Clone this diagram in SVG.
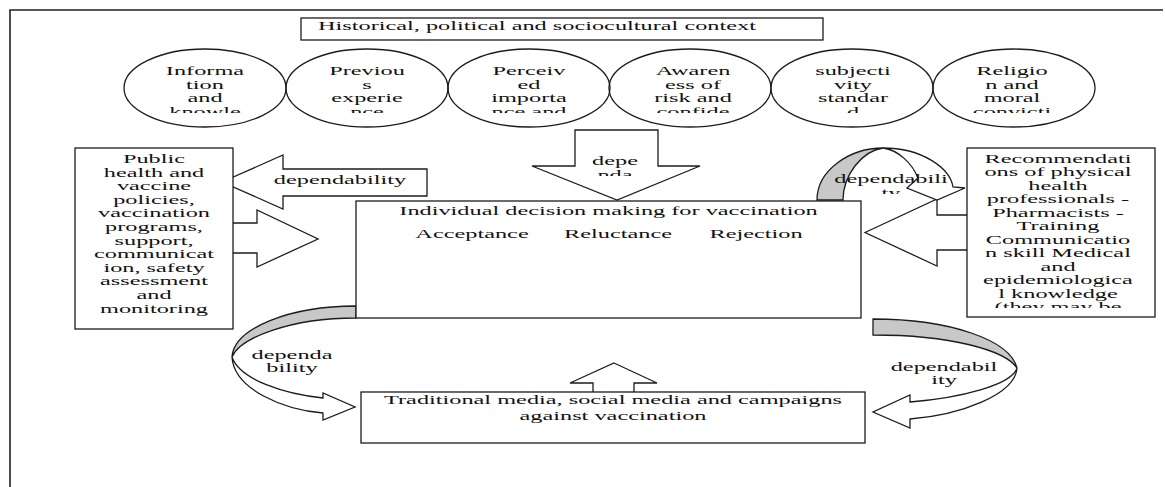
<svg xmlns="http://www.w3.org/2000/svg" width="1165" height="487" viewBox="0 0 1165 487">
<defs>
<style>
.s{fill:#fff;stroke:#1c1c1c;stroke-width:1.3}
.e{fill:none;stroke:#1c1c1c;stroke-width:1.3}
.g{fill:#c8c8c8;stroke:#1c1c1c;stroke-width:1.3}
.t{font-family:"Liberation Serif","Times New Roman",serif;font-size:13px;fill:#111;text-anchor:middle}
.tl{text-anchor:start}
</style>
<clipPath id="cE"><rect x="0" y="0" width="1165" height="113"/></clipPath>
<clipPath id="cR"><rect x="0" y="0" width="1165" height="308"/></clipPath>
<clipPath id="cD"><rect x="0" y="0" width="1165" height="176"/></clipPath>
<clipPath id="cT"><rect x="0" y="0" width="1165" height="194"/></clipPath>
</defs>
<rect width="1165" height="487" fill="#fff"/>
<g id="frame"><path d="M10,487 V10 H1163" fill="none" stroke="#222" stroke-width="1.6"/></g>

<g id="connectors">
  <g id="arrow-to-public">
    <polygon class="s" points="222,182 283,155 283,169 427,169 427,196 283,196 283,209"/>
    <text class="t" transform="matrix(1.87,0,0,1,340,184)">dependability</text>
  </g>
  <g id="arrow-public-to-individual">
    <polygon class="s" points="225,223 257,223 257,210 318,239 257,267 257,253 225,253"/>
  </g>
  <g id="arrow-down">
    <polygon class="s" points="575,130 658,130 658,166 700,166 617,200 532,166 575,166"/>
    <g clip-path="url(#cD)"><g class="t" transform="matrix(1.87,0,0,1,615,0)"><text y="165">depe</text><text y="179">nda</text></g></g>
  </g>
  <g id="arrow-recommend-to-individual">
    <polygon class="s" points="865,232.5 937,199 937,215 975,215 975,250 937,250 937,266"/>
  </g>
  <g id="curved-top-right">
    <path class="g" d="M817,200 C817,170 850,148 883,148 C862,151 843,175 843,200 Z"/>
    <path class="s" d="M883,148 C922,148 950,168 953,187 L965,188 L937,200 L907,188 L918,178 C912,163 898,150 883,148 Z"/>
    <g clip-path="url(#cT)"><g class="t" transform="matrix(1.87,0,0,1,891,0)"><text y="183">dependabili</text><text y="197">ty</text></g></g>
  </g>
  <g id="curved-bottom-left">
    <path class="g" d="M356,306 C290,306 234,328 232,357 C240,338 290,318 356,318 Z"/>
    <path class="s" d="M232,357 C234,390 285,410 323,413 L323,420 L355,407 L323,393 L323,398 C285,394 240,380 232,357 Z"/>
    <g class="t" transform="matrix(1.87,0,0,1,292,0)"><text y="359">dependa</text><text y="372">bility</text></g>
  </g>
  <g id="curved-bottom-right">
    <path class="g" d="M873,319 C950,319 1010,340 1017,368 C1005,350 950,335 873,335 Z"/>
    <path class="s" d="M1017,368 C1015,395 960,415 910,419 L910,428 L873,412 L910,395 L910,402 C960,398 1012,385 1017,368 Z"/>
    <g class="t" transform="matrix(1.87,0,0,1,944,0)"><text y="371">dependabil</text><text y="384">ity</text></g>
  </g>
  <g id="arrow-up">
    <polygon class="s" points="614,363 657,383 634,383 634,395 593,395 593,383 570,383"/>
  </g>
</g>

<g id="title">
  <rect class="s" x="301" y="18" width="522" height="22"/>
  <text class="t tl" transform="matrix(1.87,0,0,1,318,30)">Historical, political and sociocultural context</text>
</g>

<g id="factor-1">
  <ellipse class="e" cx="205" cy="88" rx="81" ry="39"/>
  <g clip-path="url(#cE)"><g class="t" transform="matrix(1.87,0,0,1,205,0)"><text y="75.5">Informa</text><text y="89">tion</text><text y="102.5">and</text><text y="116">knowle</text></g></g>
</g>
<g id="factor-2">
  <ellipse class="e" cx="367" cy="88" rx="81" ry="39"/>
  <g clip-path="url(#cE)"><g class="t" transform="matrix(1.87,0,0,1,367,0)"><text y="75.5">Previou</text><text y="89">s</text><text y="102.5">experie</text><text y="116">nce</text></g></g>
</g>
<g id="factor-3">
  <ellipse class="e" cx="529" cy="88" rx="81" ry="39"/>
  <g clip-path="url(#cE)"><g class="t" transform="matrix(1.87,0,0,1,529,0)"><text y="75.5">Perceiv</text><text y="89">ed</text><text y="102.5">importa</text><text y="116">nce and</text></g></g>
</g>
<g id="factor-4">
  <ellipse class="e" cx="690" cy="88" rx="81" ry="39"/>
  <g clip-path="url(#cE)"><g class="t" transform="matrix(1.87,0,0,1,693,0)"><text y="75.5">Awaren</text><text y="89">ess of</text><text y="102.5">risk and</text><text y="116">confide</text></g></g>
</g>
<g id="factor-5">
  <ellipse class="e" cx="852" cy="88" rx="81" ry="39"/>
  <g clip-path="url(#cE)"><g class="t" transform="matrix(1.87,0,0,1,853,0)"><text y="75.5">subjecti</text><text y="89">vity</text><text y="102.5">standar</text><text y="116">d</text></g></g>
</g>
<g id="factor-6">
  <ellipse class="e" cx="1014" cy="88" rx="81" ry="39"/>
  <g clip-path="url(#cE)"><g class="t" transform="matrix(1.87,0,0,1,1012,0)"><text y="75.5">Religio</text><text y="89">n and</text><text y="102.5">moral</text><text y="116">convicti</text></g></g>
</g>

<g id="public-health">
  <rect class="s" x="75" y="148" width="158" height="181"/>
  <g class="t" transform="matrix(1.87,0,0,1,154,0)">
    <text y="163">Public</text><text y="176.6">health and</text><text y="190.2">vaccine</text><text y="203.8">policies,</text><text y="217.4">vaccination</text><text y="231">programs,</text><text y="244.6">support,</text><text y="258.2">communicat</text><text y="271.8">ion, safety</text><text y="285.4">assessment</text><text y="299">and</text><text y="312.6">monitoring</text>
  </g>
</g>

<g id="individual-decision">
  <rect class="s" x="356" y="201" width="505" height="117"/>
  <text class="t" transform="matrix(1.87,0,0,1,608.5,215)">Individual decision making for vaccination</text>
  <text class="t" transform="matrix(1.87,0,0,1,472,238)">Acceptance</text>
  <text class="t" transform="matrix(1.87,0,0,1,618,238)">Reluctance</text>
  <text class="t" transform="matrix(1.87,0,0,1,756,238)">Rejection</text>
</g>

<g id="recommendations">
  <rect class="s" x="967" y="148" width="188" height="169"/>
  <g clip-path="url(#cR)"><g class="t" transform="matrix(1.87,0,0,1,1058,0)">
    <text y="163">Recommendati</text><text y="176.5">ons of physical</text><text y="190">health</text><text y="203.5">professionals -</text><text y="217">Pharmacists -</text><text y="230.5">Training</text><text y="244">Communicatio</text><text y="257.5">n skill Medical</text><text y="271">and</text><text y="284.5">epidemiologica</text><text y="298">l knowledge</text><text y="311.5">(they may be</text>
  </g></g>
</g>

<g id="traditional-media">
  <rect class="s" x="361" y="392" width="504" height="51"/>
  <g class="t" transform="matrix(1.87,0,0,1,613,0)"><text y="404">Traditional media, social media and campaigns</text><text y="420">against vaccination</text></g>
</g>
</svg>
